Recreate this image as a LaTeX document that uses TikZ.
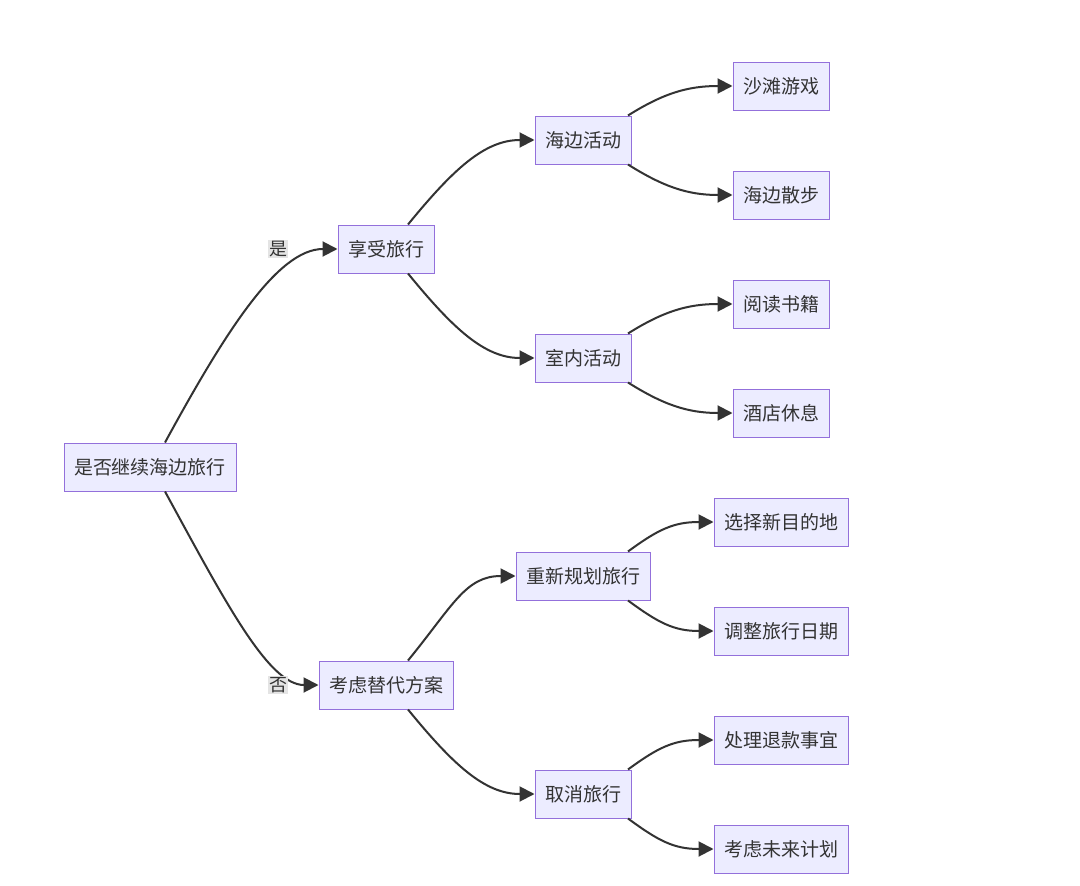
\documentclass[tikz,border=0pt]{standalone}
\usepackage{fontspec}
\setmainfont{Noto Sans CJK SC}
\usetikzlibrary{arrows.meta,calc}
\definecolor{nodefill}{HTML}{ECECFF}
\definecolor{nodedraw}{HTML}{9370DB}
\definecolor{txt}{HTML}{333333}
\definecolor{lblbg}{HTML}{E4E4E4}
\begin{document}
\begin{tikzpicture}[x=1pt,y=-1pt,
  box/.style={draw=nodedraw,fill=nodefill,line width=1pt,text=txt,
    font=\fontsize{19}{23}\selectfont,inner xsep=10pt,inner ysep=0pt,
    minimum height=48pt,anchor=center},
  edge/.style={draw=txt,line width=2pt,-{Triangle[length=15pt,width=15pt]}},
  lbl/.style={fill=lblbg,text=txt,
    font=\fontsize{18}{20}\selectfont,inner sep=1pt}]
\useasboundingbox (0,0) rectangle (1080,886);
\fill[white] (0,0) rectangle (1080,886);
% nodes
\node[box] (root) at (150,467) {是否继续海边旅行};
\node[box] (a1) at (386,249) {享受旅行};
\node[box] (a2) at (386,685) {考虑替代方案};
\node[box] (b1) at (583,140) {海边活动};
\node[box] (b2) at (583,358) {室内活动};
\node[box] (b3) at (583,576) {重新规划旅行};
\node[box] (b4) at (583,794) {取消旅行};
\node[box] (c1) at (781,86) {沙滩游戏};
\node[box] (c2) at (781,195) {海边散步};
\node[box] (c3) at (781,304) {阅读书籍};
\node[box] (c4) at (781,413) {酒店休息};
\node[box] (c5) at (781,522) {选择新目的地};
\node[box] (c6) at (781,631) {调整旅行日期};
\node[box] (c7) at (781,740) {处理退款事宜};
\node[box] (c8) at (781,849) {考虑未来计划};
% edges level 1
\draw[edge] ($(root.north)+(15,0)$) .. controls +(60,-110) and +(-60,0) .. (a1.west);
\draw[edge] ($(root.south)+(15,0)$) .. controls +(60,110) and +(-50,0) .. (a2.west);
\node[lbl] (l1) at (278,249) {是};
\node[lbl] (l2) at (278,685) {否};
% level 2
\draw[edge] ($(a1.north)+(22,0)$) .. controls +(45,-55) and +(-50,0) .. (b1.west);
\draw[edge] ($(a1.south)+(22,0)$) .. controls +(45,55) and +(-50,0) .. (b2.west);
\draw[edge] ($(a2.north)+(22,0)$) .. controls +(45,-55) and +(-50,0) .. (b3.west);
\draw[edge] ($(a2.south)+(22,0)$) .. controls +(45,55) and +(-50,0) .. (b4.west);
% level 3
\draw[edge] ($(b1.north)+(45,0)$) .. controls +(35,-22) and +(-45,0) .. (c1.west);
\draw[edge] ($(b1.south)+(45,0)$) .. controls +(35,22) and +(-45,0) .. (c2.west);
\draw[edge] ($(b2.north)+(45,0)$) .. controls +(35,-22) and +(-45,0) .. (c3.west);
\draw[edge] ($(b2.south)+(45,0)$) .. controls +(35,22) and +(-45,0) .. (c4.west);
\draw[edge] ($(b3.north)+(45,0)$) .. controls +(30,-22) and +(-40,0) .. (c5.west);
\draw[edge] ($(b3.south)+(45,0)$) .. controls +(30,22) and +(-40,0) .. (c6.west);
\draw[edge] ($(b4.north)+(45,0)$) .. controls +(30,-22) and +(-40,0) .. (c7.west);
\draw[edge] ($(b4.south)+(45,0)$) .. controls +(30,22) and +(-40,0) .. (c8.west);
\end{tikzpicture}
\end{document}
